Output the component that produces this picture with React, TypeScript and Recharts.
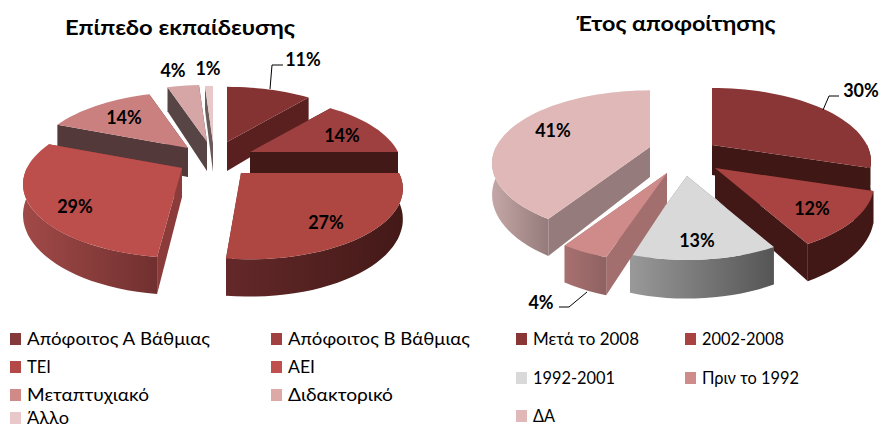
import { Legend, Pie, PieChart } from "recharts";

const LEVEL_CATEGORIES = [
  "Απόφοιτος Α Βάθμιας",
  "Απόφοιτος Β Βάθμιας",
  "ΤΕΙ",
  "ΑΕΙ",
  "Μεταπτυχιακό",
  "Διδακτορικό",
  "Άλλο",
];
const LEVEL_VALUES = [11, 14, 27, 29, 14, 4, 1];

const YEAR_CATEGORIES = ["Μετά το 2008", "2002-2008", "1992-2001", "Πριν το 1992", "ΔΑ"];
const YEAR_VALUES = [30, 12, 13, 4, 41];

const FONT = "Lato, 'Noto Sans', sans-serif";
const CX = 220;
const CY = 150;
const BASE_R = 155;
const TILT = 0.45; // flattening of the disc
const PERSP = 0.223; // back of the disc shrinks, front grows

type Slice = {
  ax: number; // exploded apex, px inside the chart
  ay: number;
  r: number;
  tip?: number; // sideways nudge of the drawn apex
  top: string;
  face: string;
  wallA: string;
  wallB: string;
  legend: string;
  label: [number, number];
  leader?: string;
  // legend placement
  mx: number;
  my: number;
  tw: number;
};

const LEVEL_SLICES: Slice[] = [
  { ax: 227, ay: 142, r: 150, top: "#843232", face: "#5A2020", wallA: "#5A2020", wallB: "#5A2020", legend: "#843A3A", label: [303, 59], leader: "270,89 272,65 283,65", mx: 10, my: 339, tw: 183 },
  { ax: 250, ay: 152, r: 148, top: "#9F4040", face: "#431917", wallA: "#431917", wallB: "#431917", legend: "#A04040", label: [342, 135], mx: 271, my: 339, tw: 182 },
  { ax: 250, ay: 173, r: 149, tip: -9, top: "#AE4642", face: "#64282A", wallA: "#64282A", wallB: "#431917", legend: "#B34A48", label: [326, 222], mx: 10, my: 367, tw: 24 },
  { ax: 182, ay: 168, r: 155, top: "#BC4E4C", face: "#8B3C3A", wallA: "#A14A48", wallB: "#70302F", legend: "#C0504D", label: [75, 206], mx: 271, my: 367, tw: 27 },
  { ax: 188, ay: 148, r: 152, top: "#CB8080", face: "#533939", wallA: "#533939", wallB: "#533939", legend: "#D08A88", label: [124, 117], mx: 10, my: 395, tw: 122 },
  { ax: 207, ay: 142, r: 155, top: "#D6A5A5", face: "#574545", wallA: "#574545", wallB: "#574545", legend: "#DDA9A7", label: [173, 70], mx: 271, my: 395, tw: 105 },
  { ax: 213, ay: 143, r: 155, top: "#E8C9C9", face: "#6A5A5A", wallA: "#6A5A5A", wallB: "#6A5A5A", legend: "#E8C8C8", label: [208, 68], mx: 10, my: 418, tw: 42 },
];

const YEAR_SLICES: Slice[] = [
  { ax: 272, ay: 145, r: 155, top: "#8A3636", face: "#3F1715", wallA: "#3F1715", wallB: "#3F1715", legend: "#8A3636", label: [421, 90], leader: "383,110 389,96 399,96", mx: 76, my: 339, tw: 106 },
  { ax: 275, ay: 168, r: 155, top: "#A84341", face: "#421816", wallA: "#421816", wallB: "#421816", legend: "#A84341", label: [372, 208], mx: 245, my: 339, tw: 82 },
  { ax: 247, ay: 176, r: 145, top: "#D9D9D9", face: "#777777", wallA: "#999999", wallB: "#555555", legend: "#D9D9D9", label: [257, 240], mx: 76, my: 378, tw: 82 },
  { ax: 227, ay: 173, r: 155, top: "#CF8B89", face: "#A26E6E", wallA: "#A87070", wallB: "#8F6262", legend: "#CF8B89", label: [101, 302], leader: "119,307 129,307 147,292", mx: 245, my: 378, tw: 97 },
  { ax: 210, ay: 147, r: 154, top: "#E0B8B8", face: "#957B7B", wallA: "#C4A6A6", wallB: "#957B7B", legend: "#E0B8B8", label: [113, 130], mx: 76, my: 416, tw: 22 },
];

function project(s: Slice, deg: number, depth: number) {
  const t = (deg * Math.PI) / 180;
  const x = Math.sin(t);
  const z = Math.cos(t);
  const p = 1 / (1 + PERSP * z);
  return {
    x: s.ax + s.r * x * p,
    y: s.ay - s.r * TILT * z * p + depth * p,
  };
}

function rim(s: Slice, from: number, to: number, depth: number) {
  const n = Math.max(2, Math.ceil((to - from) / 3));
  const pts: { x: number; y: number }[] = [];
  for (let i = 0; i <= n; i++) pts.push(project(s, from + ((to - from) * i) / n, depth));
  return pts;
}

const toPath = (pts: { x: number; y: number }[]) =>
  "M" + pts.map((p) => `${p.x.toFixed(1)},${p.y.toFixed(1)}`).join("L") + "Z";

// sectors come from the Pie; this only tilts them into the 3d look of the original
function makeShape(id: string, cats: string[], slices: Slice[], depth: number, layer: number[]) {
  return function SliceShape(props: any) {
    const idx = cats.indexOf(props.name);
    if (!layer.includes(idx)) return <g />;
    const s = slices[idx];
    const k = props.outerRadius / BASE_R;
    const sized = { ...s, r: s.r * k };
    // recharts angles run counter-clockwise from 3 o'clock
    const from = 90 - props.startAngle;
    const to = 90 - props.endAngle;
    const d = depth;
    const apex = { x: s.ax + (s.tip ?? 0), y: s.ay };
    const apexLow = { x: apex.x, y: s.ay + d };
    const top = rim(sized, from, to, 0);
    const low = rim(sized, from, to, d);
    // only the near half of the outer wall can be seen
    const wallFrom = Math.max(from, 90);
    const wallTo = Math.min(to, 270);
    const gid = `${id}-wall-${idx}`;
    return (
      <g>
        <defs>
          <linearGradient id={gid} x1="0" y1="0" x2="1" y2="0">
            <stop offset="0" stopColor={s.wallA} />
            <stop offset="1" stopColor={s.wallB} />
          </linearGradient>
        </defs>
        <path d={toPath([apex, top[0], low[0], apexLow])} fill={s.face} />
        <path d={toPath([apex, top[top.length - 1], low[low.length - 1], apexLow])} fill={s.face} />
        {wallTo > wallFrom && (
          <path
            d={toPath([...rim(sized, wallFrom, wallTo, 0), ...rim(sized, wallFrom, wallTo, d).reverse()])}
            fill={`url(#${gid})`}
          />
        )}
        <path d={toPath([apex, ...top])} fill={s.top} />
      </g>
    );
  };
}

function makeLabel(cats: string[], slices: Slice[]) {
  return function SliceLabel(props: any) {
    const s = slices[cats.indexOf(props.name)];
    return (
      <g>
        {s.leader && <polyline points={s.leader} fill="none" stroke="#000" strokeWidth={1} />}
        <text
          x={s.label[0]}
          y={s.label[1]}
          textAnchor="middle"
          dominantBaseline="central"
          fontFamily={FONT}
          fontWeight={700}
          fontSize={18}
          fill="#000"
        >
          {props.value}%
        </text>
      </g>
    );
  };
}

function LegendBlock({ cats, slices }: { cats: string[]; slices: Slice[] }) {
  return (
    <svg width={440} height={428} style={{ display: "block", overflow: "visible" }}>
      {cats.map((c, i) => {
        const s = slices[i];
        return (
          <g key={c}>
            <rect x={s.mx} y={s.my - 6} width={11} height={12} fill={s.legend} />
            <text
              x={s.mx + 17}
              y={s.my + 6}
              fontFamily={FONT}
              fontSize={18}
              fill="#000"
              textLength={s.tw}
              lengthAdjust="spacingAndGlyphs"
            >
              {c}
            </text>
          </g>
        );
      })}
    </svg>
  );
}

function Pie3D({
  id,
  title,
  titleX,
  titleY,
  titleW,
  cats,
  values,
  slices,
  depth,
  backLayer,
  frontLayer,
}: {
  id: string;
  title: string;
  titleX: number;
  titleY: number;
  titleW: number;
  cats: string[];
  values: number[];
  slices: Slice[];
  depth: number;
  backLayer: number[];
  frontLayer: number[];
}) {
  const data = cats.map((name, i) => ({ name, value: values[i] }));
  return (
    <PieChart width={440} height={428} margin={{ top: 0, right: 0, bottom: 0, left: 0 }} style={{ overflow: "visible" }}>
      <Pie
        data={data}
        dataKey="value"
        nameKey="name"
        cx={CX}
        cy={CY}
        outerRadius={BASE_R}
        startAngle={90}
        endAngle={-270}
        stroke="none"
        isAnimationActive={false}
        shape={makeShape(id + "b", cats, slices, depth, backLayer)}
      />
      <Pie
        data={data}
        dataKey="value"
        nameKey="name"
        cx={CX}
        cy={CY}
        outerRadius={BASE_R}
        startAngle={90}
        endAngle={-270}
        stroke="none"
        isAnimationActive={false}
        shape={makeShape(id + "f", cats, slices, depth, frontLayer)}
        label={makeLabel(cats, slices)}
        labelLine={false}
      />
      <text
        x={titleX}
        y={titleY}
        textAnchor="middle"
        dominantBaseline="central"
        fontFamily={FONT}
        fontWeight={700}
        fontSize={21}
        fill="#000"
        textLength={titleW}
        lengthAdjust="spacingAndGlyphs"
      >
        {title}
      </text>
      <Legend
        content={() => <LegendBlock cats={cats} slices={slices} />}
        wrapperStyle={{ position: "absolute", left: 0, top: 0, width: 440, height: 428, pointerEvents: "none" }}
      />
    </PieChart>
  );
}

export default function App() {
  return (
    <div style={{ position: "absolute", left: 0, top: 0, width: 880, height: 428, background: "#fff", overflow: "hidden" }}>
      <div style={{ position: "absolute", left: 0, top: 0 }}>
        <Pie3D
          id="level"
          title="Επίπεδο εκπαίδευσης"
          titleX={180}
          titleY={26}
          titleW={230}
          cats={LEVEL_CATEGORIES}
          values={LEVEL_VALUES}
          slices={LEVEL_SLICES}
          depth={29}
          backLayer={[4, 5, 6]}
          frontLayer={[0, 1, 2, 3]}
        />
      </div>
      <div style={{ position: "absolute", left: 440, top: 0 }}>
        <Pie3D
          id="year"
          title="Έτος αποφοίτησης"
          titleX={236}
          titleY={22}
          titleW={199}
          cats={YEAR_CATEGORIES}
          values={YEAR_VALUES}
          slices={YEAR_SLICES}
          depth={30}
          backLayer={[4]}
          frontLayer={[0, 1, 2, 3]}
        />
      </div>
    </div>
  );
}
